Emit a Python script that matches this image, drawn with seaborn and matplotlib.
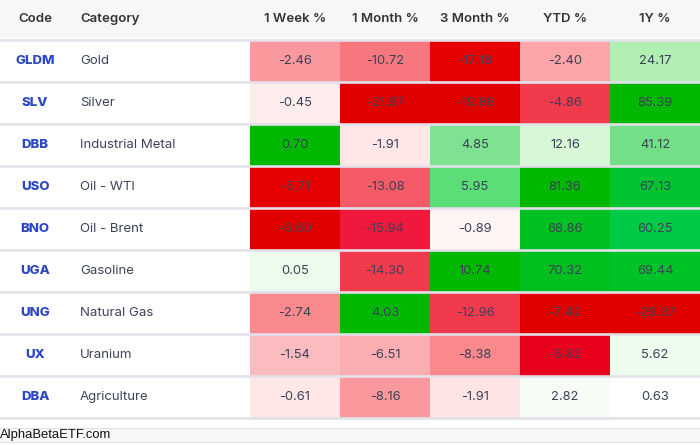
import numpy as np
import pandas as pd
import matplotlib
matplotlib.use("Agg")
import matplotlib.pyplot as plt
import seaborn as sns
from matplotlib.colors import LinearSegmentedColormap
from matplotlib.lines import Line2D
from matplotlib.patches import Rectangle
from matplotlib.transforms import blended_transform_factory

codes = ["GLDM", "SLV", "DBB", "USO", "BNO", "UGA", "UNG", "UX", "DBA"]
categories = ["Gold", "Silver", "Industrial Metal", "Oil - WTI", "Oil - Brent",
              "Gasoline", "Natural Gas", "Uranium", "Agriculture"]
periods = ["1 Week %", "1 Month %", "3 Month %", "YTD %", "1Y %"]

week1 = [-2.46, -0.45, 0.70, -5.71, -6.60, 0.05, -2.74, -1.54, -0.61]
month1 = [-10.72, -21.97, -1.91, -13.08, -15.94, -14.30, 4.03, -6.51, -8.16]
month3 = [-17.18, -19.86, 4.85, 5.95, -0.89, 10.74, -12.96, -8.38, -1.91]
ytd = [-2.40, -4.86, 12.16, 81.36, 68.86, 70.32, -7.42, -5.82, 2.82]
year1 = [24.17, 85.39, 41.12, 67.13, 60.25, 69.44, -29.37, 5.62, 0.63]

values = pd.DataFrame(np.array([week1, month1, month3, ytd, year1]).T,
                      index=codes, columns=periods)

# per-column scaling: negatives relative to column min, positives to column max
def scale_col(c):
    neg = -c.min() if c.min() < 0 else 1.0
    pos = c.max() if c.max() > 0 else 1.0
    return c.where(c >= 0, c / neg).where(c < 0, c / pos)

scaled = values.apply(scale_col)

neg_stops = [(0.0, "#ffffff"), (0.05, "#fff2f2"), (0.09, "#ffe6e7"), (0.23, "#fcbcbf"),
             (0.30, "#fcacb0"), (0.37, "#fa9a9e"), (0.42, "#fa8a8e"), (0.49, "#f7777e"),
             (0.60, "#f55a68"), (0.65, "#f23c4e"), (0.73, "#f0163c"), (0.78, "#e8001f"),
             (0.87, "#e60000"), (1.0, "#e00000")]
pos_stops = [(0.0, "#ffffff"), (0.066, "#eefcee"), (0.15, "#d8f7d8"), (0.28, "#b4efb4"),
             (0.45, "#7ee290"), (0.48, "#74e08a"), (0.55, "#5ddd78"), (0.70, "#00cc4a"),
             (0.79, "#00c530"), (0.85, "#00c022"), (1.0, "#00b800")]
stops = [(0.5 - t / 2, c) for t, c in reversed(neg_stops[1:])] + [(0.5, "#ffffff")] + \
        [(0.5 + t / 2, c) for t, c in pos_stops[1:]]
cmap = LinearSegmentedColormap.from_list("perf", stops)

W, H = 700, 445
fig = plt.figure(figsize=(W / 100, H / 100), dpi=100)
fig.patch.set_facecolor("white")

top_px, bot_px = 40, 418
ax = fig.add_axes([250 / W, 1 - bot_px / H, 450 / W, (bot_px - top_px) / H])

sns.heatmap(scaled, cmap=cmap, vmin=-1, vmax=1, annot=values, fmt=".2f", cbar=False,
            ax=ax, linewidths=0,
            annot_kws={"fontsize": 9.3, "color": "#3b4256", "family": "Inter"})
ax.set_xticks([])
ax.set_yticks([])
ax.set_xlabel("")
ax.set_ylabel("")
for s in ax.spines.values():
    s.set_visible(False)

# header background
fig.add_artist(Rectangle((0, 1 - 38 / H), 1, 38 / H, transform=fig.transFigure,
                         facecolor="#f7f7fa", edgecolor="none", zorder=0))
hy = 1 - 19 / H
hdr = dict(fontsize=9.5, fontweight="semibold", color="#333333", family="Inter", va="center")
fig.text(35 / W, hy, "Code", ha="center", **hdr)
fig.text(80 / W, hy, "Category", ha="left", **hdr)
for j, p in enumerate(periods):
    fig.text((250 + 90 * j + 45) / W, hy, p, ha="center", **hdr)

tr = blended_transform_factory(fig.transFigure, ax.transData)
for i, (c, cat) in enumerate(zip(codes, categories)):
    ax.text(35 / W, i + 0.5, c, transform=tr, ha="center", va="center", fontsize=9.5,
            fontweight="heavy", color="#2d46c4", family="Inter", clip_on=False)
    ax.text(80 / W, i + 0.5, cat, transform=tr, ha="left", va="center", fontsize=9.5,
            color="#3d4458", family="Inter", clip_on=False)

for i in range(len(codes) + 1):
    ax.add_line(Line2D([0, 1], [i, i], transform=tr, color="#e4e0ea", lw=1.9,
                       clip_on=False, zorder=5))

# footer
fig.add_artist(Rectangle((0, 1 - 442 / H), 1, 14 / H, transform=fig.transFigure,
                         facecolor="#f8f8f8", edgecolor="none", zorder=0))
for yp in (428, 442):
    fig.add_artist(Line2D([0, 1], [1 - yp / H] * 2, transform=fig.transFigure,
                          color="#e2e2e2", lw=0.8))
fig.text(0, 1 - 435 / H, "AlphaBetaETF.com", ha="left", va="center", fontsize=9.4,
         color="#111111", family="Liberation Sans")

fig.savefig("out.png", dpi=100)
